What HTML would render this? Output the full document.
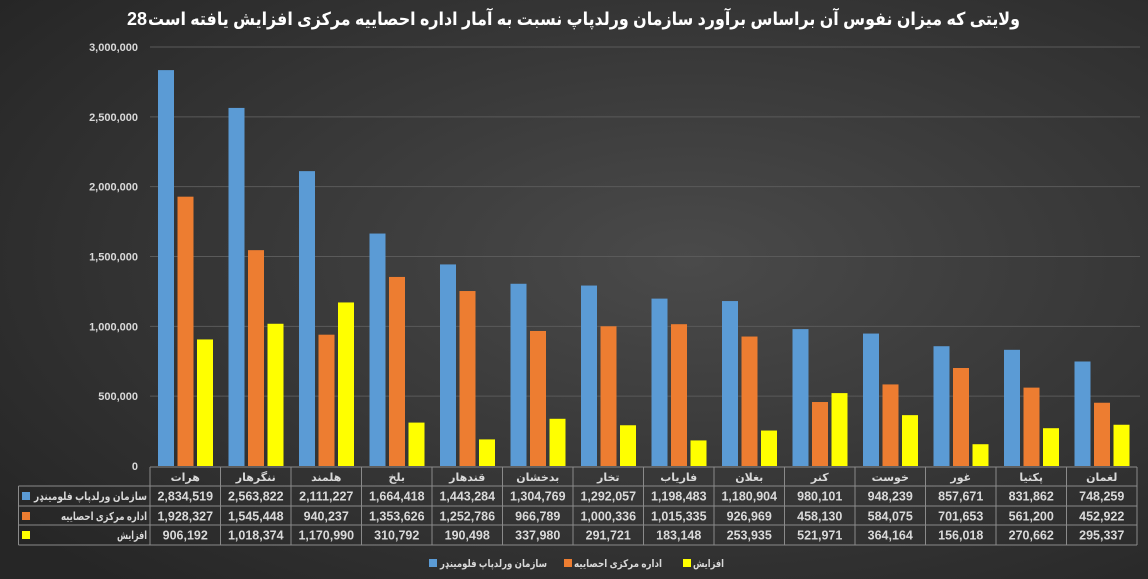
<!DOCTYPE html>
<html><head><meta charset="utf-8"><style>
html,body{margin:0;width:1148px;height:579px;overflow:hidden;background:#333;}
svg{display:block;}
svg text{font-family:"Liberation Sans","DejaVu Sans",sans-serif;}
</style></head><body>
<svg width="1148" height="579" xmlns="http://www.w3.org/2000/svg">
<defs><radialGradient id="bg" cx="60%" cy="45%" r="75%"><stop offset="0" stop-color="#4a4a4a"/><stop offset="1" stop-color="#262626"/></radialGradient></defs>
<rect width="1148" height="579" fill="url(#bg)"/>
<text x="127" y="25" fill="#fff" font-size="18" font-weight="bold">28</text>
<text x="148" y="25" fill="#fff" font-size="18" font-weight="bold" textLength="872" lengthAdjust="spacingAndGlyphs">ولایتی که میزان نفوس آن براساس برآورد سازمان ورلدپاپ نسبت به آمار اداره احصاییه مرکزی افزایش یافته است</text>
<g id="c"></g>
</svg>
<script>
(function(){
const names=["هرات","ننگرهار","هلمند","بلخ","قندهار","بدخشان","تخار","فاریاب","بغلان","کنر","خوست","غور","پکتیا","لغمان"];
const A=[2834519,2563822,2111227,1664418,1443284,1304769,1292057,1198483,1180904,980101,948239,857671,831862,748259];
const B=[1928327,1545448,940237,1353626,1252786,966789,1000336,1015335,926969,458130,584075,701653,561200,452922];
const C=[906192,1018374,1170990,310792,190498,337980,291721,183148,253935,521971,364164,156018,270662,295337];
const f=n=>n.toLocaleString('en-US');
let s='';const y0=466,yTop=47,sc=(y0-yTop)/3e6,x0=150,w=70.5;
for(let i=0;i<=6;i++){const y=y0-i*500000*sc;
 if(i>0)s+=`<line x1="${x0}" x2="1140" y1="${y}" y2="${y}" stroke="#5a5a5a" stroke-width="1"/>`;
 s+=`<text x="138" y="${y+4}" fill="#d9d9d9" font-size="11" font-weight="bold" text-anchor="end">${f(i*500000)}</text>`;}
const cols=['#5b9bd5','#ed7d31','#ffff00'];
names.forEach((n,i)=>{const gx=x0+i*w+8;[A,B,C].forEach((d,k)=>{const h=d[i]*sc;s+=`<rect x="${gx+k*19.5}" y="${y0-h}" width="16" height="${h}" fill="${cols[k]}"/>`;});});
const rows=[467,486,506,525,545];const L=18.5,R=1137;
s+=`<g stroke="#8a8a8a" stroke-width="1" fill="none">`;
s+=`<line x1="${x0}" x2="${R}" y1="${rows[0]}" y2="${rows[0]}"/>`;
for(let r=1;r<5;r++)s+=`<line x1="${L}" x2="${R}" y1="${rows[r]}" y2="${rows[r]}"/>`;
s+=`<line x1="${L}" x2="${L}" y1="${rows[1]}" y2="${rows[4]}"/>`;
for(let i=0;i<=14;i++)s+=`<line x1="${x0+i*w}" x2="${x0+i*w}" y1="${rows[0]}" y2="${rows[4]}"/>`;
s+=`</g>`;
names.forEach((n,i)=>{const cx=x0+i*w+w/2;
 s+=`<text x="${cx}" y="481" fill="#d9d9d9" font-size="11" font-weight="bold" text-anchor="middle">${n}</text>`;
 [A,B,C].forEach((d,k)=>{s+=`<text x="${cx}" y="${rows[k+1]+14.5}" fill="#d9d9d9" font-size="12.5" font-weight="bold" text-anchor="middle">${f(d[i])}</text>`;});});
const lab=["سازمان ورلدپاپ فلومینډر","اداره مرکزی احصاییه","افزایش"];
const rw=[113,86,30];
lab.forEach((t,k)=>{const y=rows[k+1];s+=`<rect x="22" y="${y+6}" width="8" height="8" fill="${cols[k]}"/><text x="${147-rw[k]}" y="${y+14}" fill="#d9d9d9" font-size="11" font-weight="bold" textLength="${rw[k]}" lengthAdjust="spacingAndGlyphs">${t}</text>`;});
const lx=[[429,440,107],[564,574,88],[683,693,31]];
lab.forEach((t,k)=>{s+=`<rect x="${lx[k][0]}" y="559" width="8" height="8" fill="${cols[k]}"/><text x="${lx[k][1]}" y="567" fill="#d9d9d9" font-size="10.5" font-weight="bold" textLength="${lx[k][2]}" lengthAdjust="spacingAndGlyphs">${t}</text>`;});
document.getElementById('c').innerHTML=s;
})();
</script>
</body></html>
